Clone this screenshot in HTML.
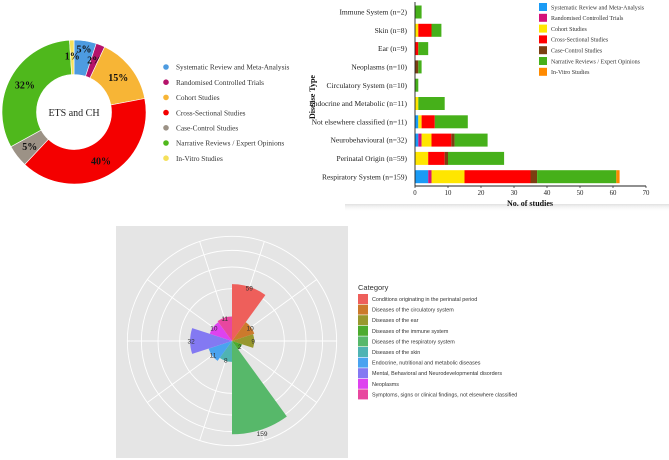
<!DOCTYPE html>
<html><head><meta charset="utf-8"><style>
body{margin:0;background:#fff;}
svg{display:block;}
.serif{font-family:"Liberation Serif",serif;}
.sans{font-family:"Liberation Sans",sans-serif;}
</style></head><body>
<svg id="root" width="669" height="460" viewBox="0 0 669 460" xmlns="http://www.w3.org/2000/svg">
<defs>
<linearGradient id="shadow" x1="0" y1="0" x2="0" y2="1">
<stop offset="0" stop-color="#ddd" stop-opacity="0.9"/><stop offset="1" stop-color="#fff" stop-opacity="0"/>
</linearGradient>
</defs>
<rect x="345" y="204" width="324" height="8" fill="url(#shadow)"/>
<g id="donut"></g>
<g id="bars"></g>
<g id="polar"></g>
</svg>
<script>
const NS="http://www.w3.org/2000/svg";
function mk(parent,tag,attrs,text){const e=document.createElementNS(NS,tag);for(const k in attrs)e.setAttribute(k,attrs[k]);if(text!==undefined)e.textContent=text;parent.appendChild(e);return e;}

// ---------- Donut data ----------
const donutLabels=["Systematic Review and Meta-Analysis","Randomised Controlled Trials","Cohort Studies","Cross-Sectional Studies","Case-Control Studies","Narrative Reviews / Expert Opinions","In-Vitro Studies"];
const donutValues=[5,2,15,40,5,32,1];
const donutColors=["#4d9be0","#b5126a","#f7b536","#f40000","#9c9286","#4fb81c","#f5e05a"];

// ---------- Bar data ----------
const barCategories=["Immune System (n=2)","Skin (n=8)","Ear (n=9)","Neoplasms (n=10)","Circulatory System (n=10)","Endocrine and Metabolic (n=11)","Not elsewhere classified (n=11)","Neurobehavioural (n=32)","Perinatal Origin (n=59)","Respiratory System (n=159)"];
const seriesSR=[0,0,0,0,0,0,1,1,0,4];
const seriesRCT=[0,0,0,0,0,0,0,1,0,1];
const seriesCohort=[0,1,0,0,0,1,1,3,4,10];
const seriesCS=[0,4,1,0,0,0,4,6,5,20];
const seriesCC=[0,0,0,1,0,0,0,1,1,2];
const seriesNR=[2,3,3,1,1,8,10,10,17,24];
const seriesIV=[0,0,0,0,0,0,0,0,0,1];
const barTicks=[0,10,20,30,40,50,60,70];
const barColors=["#1a9bf5","#d4127a","#ffe600","#ff0000","#7b3f12","#46b01a","#ff8a00"];

// ---------- Polar data ----------
const polarCategories=["Conditions originating in the perinatal period","Diseases of the circulatory system","Diseases of the ear","Diseases of the immune system","Diseases of the respiratory system","Diseases of the skin","Endocrine, nutritional and metabolic diseases","Mental, Behavioral and Neurodevelopmental disorders","Neoplasms","Symptoms, signs or clinical findings, not elsewhere classified"];
const polarValues=[59,10,9,2,159,8,11,32,10,11];
const polarGrid=[50,100,150,200];
const polarColors=["#ee5f5b","#cc7a2c","#98982e","#4cab2e","#57b86a","#4fb3b3","#4aa3f0","#8379f2","#de42ef","#e8479f"];

// ---------- Donut ----------
(function(){
  const g=document.getElementById('donut');
  const cx=74,cy=112,R=72,r=37.5;
  const total=donutValues.reduce((a,b)=>a+b,0);
  let a0=0;
  function pt(rad,a){return [cx+rad*Math.sin(a),cy-rad*Math.cos(a)];}
  donutValues.forEach((v,i)=>{
    const a1=a0+v/total*2*Math.PI;
    const large=(a1-a0)>Math.PI?1:0;
    const p1=pt(R,a0),p2=pt(R,a1),p3=pt(r,a1),p4=pt(r,a0);
    const p=mk(g,'path',{d:`M${p1} A${R},${R} 0 ${large} 1 ${p2} L${p3} A${r},${r} 0 ${large} 0 ${p4} Z`,fill:donutColors[i],stroke:'#fff','stroke-width':0.6});
    
    
    const am=(a0+a1)/2;const lp=pt(i===0?64:56,am);
    const t=mk(g,'text',{x:lp[0],y:lp[1]+3.5,'text-anchor':'middle','font-size':10,'font-weight':'bold',class:'serif',fill:'#111'},v+'%');
    
    
    a0=a1;
  });
  const c=mk(g,'text',{x:cx,y:cy+4,'text-anchor':'middle','font-size':10,class:'serif',fill:'#222'},'ETS and CH');
  
  
  donutLabels.forEach((l,i)=>{
    const y=67+i*15.2;
    const d=mk(g,'circle',{cx:166,cy:y,r:2.8,fill:donutColors[i]});
    
    
    const t=mk(g,'text',{x:176,y:y+2.7,'font-size':7.3,class:'serif',fill:'#333'},l);
    
    
  });
})();

// ---------- Bars ----------
(function(){
  const g=document.getElementById('bars');
  const x0=415,x1=646,yb=186,maxV=70;
  const xs=v=>x0+v/maxV*(x1-x0);
  const ys=i=>12+i*18.3;
  const series=[seriesSR,seriesRCT,seriesCohort,seriesCS,seriesCC,seriesNR,seriesIV];
  barCategories.forEach((c,i)=>{
    let acc=0;
    series.forEach((s,k)=>{
      if(s[i]>0){
        const r=mk(g,'rect',{x:xs(acc),y:ys(i)-6.5,width:xs(acc+s[i])-xs(acc),height:13,fill:barColors[k]});
        
        
      }
      acc+=s[i];
    });
    const t=mk(g,'text',{x:407,y:ys(i)+2.6,'text-anchor':'end','font-size':7.5,class:'serif',fill:'#222'},c);
    
    
  });
  const ax=mk(g,'path',{d:`M${x0},2 V${yb} H${x1}`,fill:'none',stroke:'#222','stroke-width':0.9});
  
  
  barTicks.forEach(v=>{
    mk(g,'line',{x1:xs(v),x2:xs(v),y1:yb,y2:yb+2,stroke:'#222','stroke-width':0.7});
    const t=mk(g,'text',{x:xs(v),y:yb+9,'text-anchor':'middle','font-size':6.8,class:'serif',fill:'#222'},v);
    
    
  });
  const xt=mk(g,'text',{x:530,y:206,'text-anchor':'middle','font-size':8,'font-weight':'bold',class:'serif',fill:'#111'},'No. of studies');
  
  
  const yt=mk(g,'text',{x:0,y:0,transform:'translate(315,97) rotate(-90)','text-anchor':'middle','font-size':8,'font-weight':'bold',class:'serif',fill:'#111'},'Disease Type');
  
  
  donutLabels.forEach((l,i)=>{
    const y=7+i*10.8;
    const r=mk(g,'rect',{x:539,y:y-4,width:8,height:8,fill:barColors[i]});
    
    
    const t=mk(g,'text',{x:551,y:y+2.3,'font-size':6,class:'serif',fill:'#333'},l);
    
    
  });
})();

// ---------- Polar ----------
(function(){
  const g=document.getElementById('polar');
  const cx=232,cy=341,k=7.4;
  const rs=v=>k*Math.sqrt(v);
  const bg=mk(g,'rect',{x:116,y:226,width:232,height:232,fill:'#e5e5e5'});
  
  
  const n=polarCategories.length,step=2*Math.PI/n;
  const pt=(rad,a)=>[cx+rad*Math.sin(a),cy-rad*Math.cos(a)];
  polarGrid.forEach(v=>{
    const c=mk(g,'circle',{cx:cx,cy:cy,r:rs(v),fill:'none',stroke:'#fff','stroke-width':0.9});
    
    
  });
  const Rmax=rs(polarGrid[polarGrid.length-1]);
  for(let i=0;i<n;i++){
    const p=pt(Rmax,(i+0.5)*step);
    const l=mk(g,'line',{x1:cx,y1:cy,x2:p[0],y2:p[1],stroke:'#fff','stroke-width':0.9});
    
    
  }
  polarValues.forEach((v,i)=>{
    const a0=i*step,a1=(i+1)*step,R=rs(v);
    const p1=pt(R,a0),p2=pt(R,a1);
    const w=mk(g,'path',{d:`M${cx},${cy} L${p1} A${R},${R} 0 0 1 ${p2} Z`,fill:polarColors[i]});
    
    
  });
  polarValues.forEach((v,i)=>{
    const lp=pt(rs(v)+(v>100?4:-1),(i+0.5)*step);
    const t=mk(g,'text',{x:lp[0],y:lp[1]+2.5,'text-anchor':'middle','font-size':6.5,class:'sans',fill:'#333'},v);
    
    
  });
  const tt=mk(g,'text',{x:358,y:290,'font-size':7.5,class:'sans',fill:'#333'},'Category');
  
  
  polarCategories.forEach((c,i)=>{
    const y=299+i*10.6;
    const r=mk(g,'rect',{x:358,y:y-5,width:10,height:10,fill:polarColors[i]});
    
    
    const t=mk(g,'text',{x:372,y:y+2,'font-size':5.4,class:'sans',fill:'#333'},c);
    
    
  });
})();
</script>
</body></html>
